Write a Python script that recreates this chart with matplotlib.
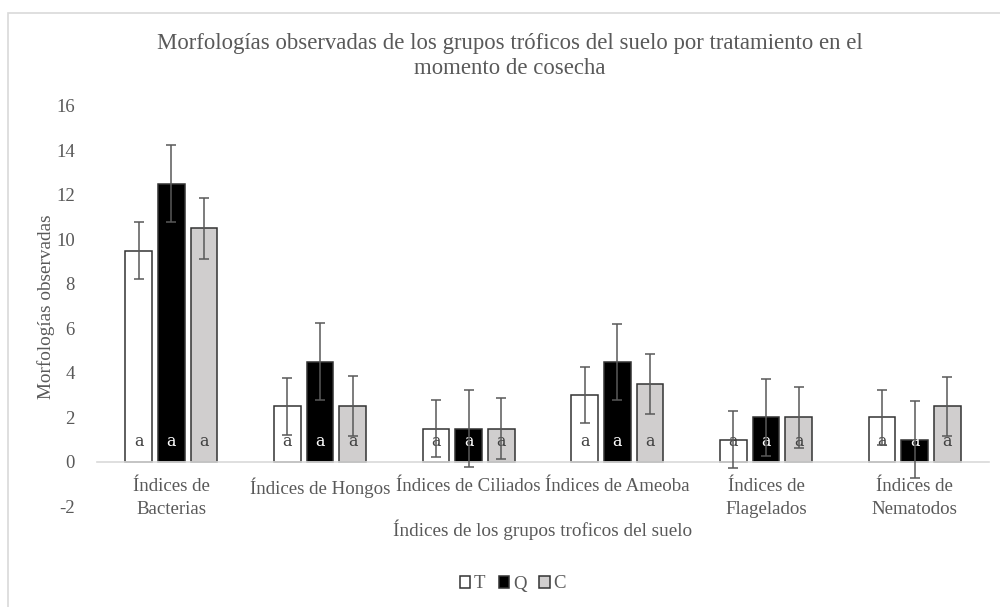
import matplotlib
matplotlib.use("Agg")
import matplotlib.pyplot as plt
import matplotlib.patches as mpatches
import numpy as np

plt.rcParams['font.family'] = ['Liberation Serif', 'DejaVu Serif']

categories = ["Índices de\nBacterias", "Índices de Hongos", "Índices de Ciliados",
              "Índices de Ameoba", "Índices de\nFlagelados", "Índices de\nNematodos"]
series_names = ["T", "Q", "C"]
T_vals = [9.5, 2.5, 1.5, 3.0, 1.0, 2.0]
Q_vals = [12.5, 4.5, 1.5, 4.5, 2.0, 1.0]
C_vals = [10.5, 2.5, 1.5, 3.5, 2.0, 2.5]
T_err = [1.27, 1.27, 1.27, 1.25, 1.27, 1.25]
Q_err = [1.73, 1.73, 1.73, 1.72, 1.72, 1.72]
C_err = [1.37, 1.35, 1.38, 1.36, 1.35, 1.33]
letters_T = ["a"] * 6
letters_Q = ["a"] * 6
letters_C = ["a"] * 6
yticks = [-2, 0, 2, 4, 6, 8, 10, 12, 14, 16]

title = "Morfologías observadas de los grupos tróficos del suelo por tratamiento en el\nmomento de cosecha"
ylabel = "Morfologías observadas"
xlabel = "Índices de los grupos troficos del suelo"

txt = "#595959"
fig = plt.figure(figsize=(10, 6.07), dpi=100)
# outer chart border
fig.patches.append(mpatches.Rectangle((0.008, -0.02), 1.05, 0.9786 + 0.02, transform=fig.transFigure,
                                      fill=False, edgecolor="#D9D9D9", linewidth=1.2))

ax = fig.add_axes([0.097, 0.1656, 0.892, 0.66])
x = np.arange(len(categories))
w = 0.18
off = 0.22
fills = ["white", "black", "#D0CECE"]
vals = [T_vals, Q_vals, C_vals]
errs = [T_err, Q_err, C_err]
letters = [letters_T, letters_Q, letters_C]
text_cols = ["#404040", "white", "#404040"]
handles = []
for i, (v, e, fc, lt, tc, nm) in enumerate(zip(vals, errs, fills, letters, text_cols, series_names)):
    xs = x + (i - 1) * off
    b = ax.bar(xs, v, width=w, color=fc, edgecolor="#333333", linewidth=1.1, label=nm, zorder=2)
    handles.append(b)
    for xi, l in zip(xs, lt):
        ax.text(xi, 0.93, l, ha="center", va="center", fontsize=11.5, color=tc, zorder=3,
                family=["DejaVu Serif"])
    ax.errorbar(xs, v, yerr=e, fmt="none", ecolor="#595959", elinewidth=1.1, capsize=3.3,
                capthick=1.1, zorder=4)

ax.set_xlim(-0.5, len(categories) - 0.5)
ax.set_ylim(-2, 16)
ax.set_yticks(yticks)
ax.set_yticklabels([str(t) for t in yticks])
ax.set_xticks(x)
ax.set_xticklabels([])
for xi, lab in zip(x, categories):
    ax.annotate(lab, xy=(xi, 0), xytext=(0, -11.5), textcoords="offset points", ha="center", va="top",
                fontsize=13.6, color=txt, linespacing=1.48, annotation_clip=False)
for s in ["top", "right", "left"]:
    ax.spines[s].set_visible(False)
ax.spines["bottom"].set_position(("data", 0))
ax.spines["bottom"].set_color("#D9D9D9")
ax.spines["bottom"].set_linewidth(1.2)
ax.tick_params(axis="y", length=0, pad=16, labelsize=13.5, labelcolor=txt)
ax.tick_params(axis="x", length=0)

fig.text(0.51, 1 - 56 / 607, title, ha="center", va="center", fontsize=16.4, color=txt, linespacing=1.22)
fig.text(0.046, 1 - 307 / 607, ylabel, rotation=90, ha="center", va="center", fontsize=13.8, color=txt)
fig.text(0.543, 1 - 530 / 607, xlabel, ha="center", va="center", fontsize=13.8, color=txt)

leg = fig.legend(handles=handles, labels=series_names, loc="center", bbox_to_anchor=(0.513, 1 - 584 / 607),
                 ncol=3, frameon=False, fontsize=13.5, handlelength=0.55, handleheight=0.55,
                 handletextpad=0.2, columnspacing=0.7, labelcolor=txt)

fig.savefig("out.png", dpi=100)
